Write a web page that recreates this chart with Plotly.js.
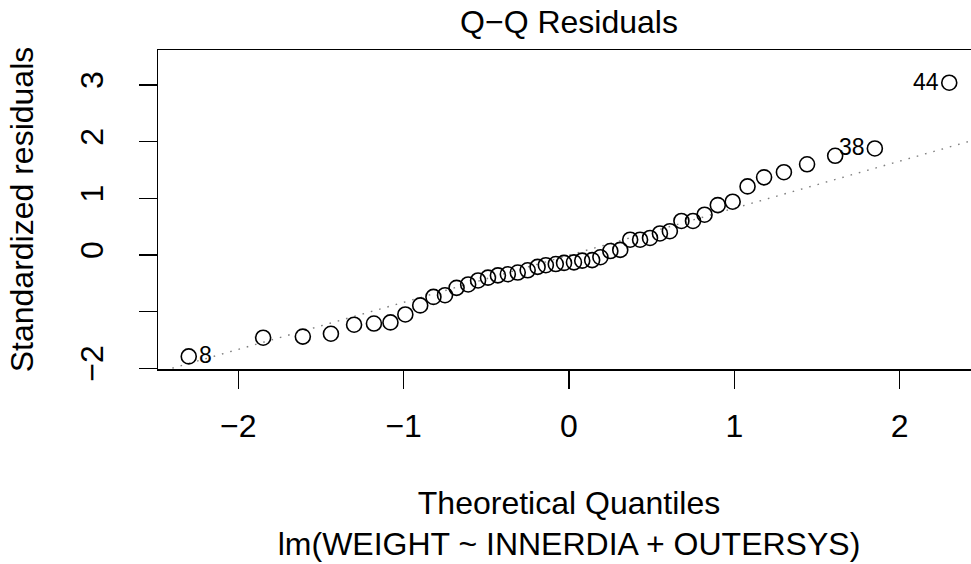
<!DOCTYPE html>
<html>
<head>
<meta charset="utf-8">
<script src="https://cdn.plot.ly/plotly-3.0.1.min.js"></script>
<style>
html, body { margin: 0; padding: 0; overflow: hidden; background: #ffffff; }
#chart { width: 985px; height: 564px; }
</style>
</head>
<body>
<div id="chart"></div>
<script>
// Theoretical quantiles
const theoreticalQuantiles = [
  -2.30, -1.85, -1.61, -1.44, -1.30, -1.18, -1.08, -0.99, -0.90, -0.82,
  -0.75, -0.68, -0.61, -0.55, -0.49, -0.43, -0.37, -0.31, -0.25, -0.19,
  -0.14, -0.08, -0.03,
   0.03,  0.08,  0.14,  0.19,  0.25,  0.31,  0.37,  0.43,  0.49,  0.55,
   0.61,  0.68,  0.75,  0.82,  0.90,  0.99,  1.08,  1.18,  1.30,  1.44,
   1.61,  1.85,  2.30
];
// Sorted standardized residuals
const standardizedResiduals = [
  -1.79, -1.46, -1.44, -1.39, -1.23, -1.21, -1.19, -1.05, -0.89, -0.74,
  -0.71, -0.58, -0.52, -0.45, -0.40, -0.36, -0.34, -0.31, -0.27, -0.21,
  -0.18, -0.16, -0.14,
  -0.13, -0.10, -0.09, -0.04,  0.07,  0.09,  0.27,  0.27,  0.30,  0.38,
   0.42,  0.60,  0.60,  0.71,  0.88,  0.94,  1.21,  1.37,  1.46,  1.60,
   1.75,  1.88,  3.04
];
// Identified observations: index into the sorted arrays and the label
const idPointIndex = [0, 44, 45];
const idLabels = ['8', '38', '44'];

const xTickVals = [-2, -1, 0, 1, 2];
const xTickText = ['\u22122', '\u22121', '0', '1', '2'];
const yTickVals = [-2, -1, 0, 1, 2, 3];
const yTickText = ['\u22122', '', '0', '1', '2', '3'];

// qqline: through the first and third quartiles
function quantile7(arr, p) {
  const s = arr.slice().sort((a, b) => a - b);
  const h = (s.length - 1) * p;
  const lo = Math.floor(h);
  return s[lo] + (h - lo) * ((s[Math.min(lo + 1, s.length - 1)]) - s[lo]);
}
const zq = 0.6744898; // standard normal 75% quantile
const y25 = quantile7(standardizedResiduals, 0.25);
const y75 = quantile7(standardizedResiduals, 0.75);
const slope = (y75 - y25) / (2 * zq);
const intercept = y75 - slope * zq;
const lineX = [-3, 3];
const lineY = lineX.map(v => intercept + slope * v);

const FONT = 'Liberation Sans, Arial, Helvetica, sans-serif';
const FS = 32;

const traces = [
  {
    x: lineX, y: lineY, mode: 'lines', type: 'scatter',
    line: { color: '#7f7f7f', width: 1.4, dash: '1.6px,7px' },
    hoverinfo: 'skip', showlegend: false
  },
  {
    x: theoreticalQuantiles, y: standardizedResiduals,
    mode: 'markers', type: 'scatter', cliponaxis: false,
    marker: { symbol: 'circle-open', size: 15, color: '#000000', line: { width: 1.6, color: '#000000' } },
    showlegend: false
  }
];

const annotations = idPointIndex.map((idx, k) => {
  const x = theoreticalQuantiles[idx];
  const leftSide = x < 0;
  return {
    x: x, y: standardizedResiduals[idx], xref: 'x', yref: 'y',
    text: idLabels[k], showarrow: false,
    xanchor: leftSide ? 'left' : 'right', yanchor: 'middle',
    xshift: leftSide ? 8 : -8, yshift: 1,
    font: { family: FONT, size: 23, color: '#000000' }
  };
});

const layout = {
  width: 985, height: 564,
  margin: { l: 158, r: 5, t: 50, b: 195 },
  paper_bgcolor: '#ffffff', plot_bgcolor: '#ffffff',
  font: { family: FONT, size: FS, color: '#000000' },
  title: {
    text: 'Q\u2212Q Residuals', font: { family: FONT, size: FS, color: '#000000' },
    x: 0.5, xref: 'paper', xanchor: 'center',
    y: 1 - 22 / 564, yref: 'container', yanchor: 'middle'
  },
  xaxis: {
    range: [-2.486, 2.486],
    tickmode: 'array', tickvals: xTickVals, ticktext: xTickText,
    ticks: 'outside', ticklen: 18, tickwidth: 1.5, tickcolor: '#000000',
    showline: true, linecolor: '#000000', linewidth: 1.5, mirror: true,
    showgrid: false, zeroline: false,
    tickfont: { family: FONT, size: FS, color: '#000000' },
    ticklabelstandoff: 10,
    title: { text: 'Theoretical Quantiles<br>lm(WEIGHT ~ INNERDIA + OUTERSYS)', font: { family: FONT, size: FS, color: '#000000' }, standoff: 48 },
    automargin: false
  },
  yaxis: {
    range: [-2.012, 3.617],
    tickmode: 'array', tickvals: yTickVals, ticktext: yTickText,
    tickangle: -90,
    ticks: 'outside', ticklen: 18, tickwidth: 1.5, tickcolor: '#000000',
    showline: true, linecolor: '#000000', linewidth: 1.5, mirror: true,
    showgrid: false, zeroline: false,
    tickfont: { family: FONT, size: FS, color: '#000000' },
    ticklabelstandoff: 23,
    title: { text: 'Standardized residuals', font: { family: FONT, size: FS, color: '#000000' }, standoff: 30 },
    automargin: false
  },
  annotations: annotations,
  showlegend: false
};

Plotly.newPlot('chart', traces, layout, { displayModeBar: false, staticPlot: true });
</script>
</body>
</html>
